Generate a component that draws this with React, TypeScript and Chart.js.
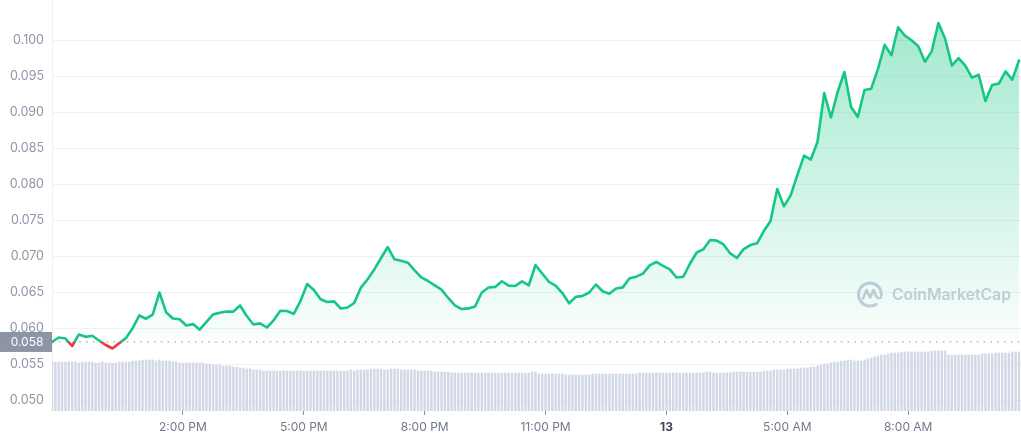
import { useEffect, useRef } from "react";
import { Chart, registerables } from "chart.js";

Chart.register(...registerables);

// Time axis: minutes since midnight of the 12th (10:45 AM start)
const START_MINUTE = 645;
const PRICE_STEP_MIN = 10;
const VOLUME_STEP_MIN = 5;

// Price (USD), one reading every 10 minutes
const prices = [
  0.0581, 0.05872, 0.05857, 0.05754, 0.05914, 0.05881, 0.05896, 0.05831, 0.05768, 0.05719,
  0.05793, 0.05863, 0.05999, 0.06178, 0.06133, 0.0619, 0.06497, 0.06222, 0.06136, 0.06126,
  0.06039, 0.06058, 0.05981, 0.06088, 0.06193, 0.06215, 0.06233, 0.06231, 0.06317, 0.06171,
  0.06053, 0.06068, 0.06011, 0.0611, 0.06244, 0.0624, 0.062, 0.06378, 0.06615, 0.06532,
  0.06404, 0.06365, 0.06374, 0.06275, 0.06289, 0.06351, 0.06565, 0.06681, 0.06817, 0.06976,
  0.07129, 0.06958, 0.06939, 0.06911, 0.06804, 0.06706, 0.06657, 0.06596, 0.06537, 0.06421,
  0.06317, 0.06267, 0.06276, 0.06303, 0.06497, 0.06567, 0.06575, 0.06653, 0.06592, 0.06588,
  0.06651, 0.06597, 0.06879, 0.06761, 0.06646, 0.06594, 0.06489, 0.06347, 0.06436, 0.06449,
  0.06497, 0.06608, 0.06515, 0.06479, 0.06553, 0.06568, 0.06696, 0.06717, 0.0676, 0.06874,
  0.06921, 0.06868, 0.06819, 0.06706, 0.06715, 0.06896, 0.07053, 0.07097, 0.07226, 0.07218,
  0.07164, 0.0704, 0.06976, 0.07101, 0.07156, 0.07181, 0.07351, 0.0749, 0.07935, 0.07693,
  0.07847, 0.08132, 0.08399, 0.08344, 0.08592, 0.09268, 0.08928, 0.09285, 0.0956, 0.09074,
  0.08935, 0.0931, 0.09328, 0.09604, 0.09937, 0.09793, 0.10182, 0.10067, 0.1, 0.09918,
  0.09703, 0.09846, 0.1024, 0.10022, 0.0965, 0.09754, 0.09649, 0.09481, 0.09521, 0.09157,
  0.09379, 0.094, 0.09569, 0.09454, 0.09719,
];

// Volume (millions USD), one bar every 5 minutes
const volumes = [
  4.9, 4.9, 4.9, 4.9, 4.9, 4.9, 4.9, 4.9, 4.8, 4.9, 4.9, 4.9, 4.9, 4.8, 4.8, 4.9, 4.8, 4.8, 4.8, 4.8, 4.9, 4.9, 4.9, 4.9,
  5.0, 5.0, 5.0, 5.1, 5.1, 5.1, 5.1, 5.0, 5.1, 5.0, 5.0, 5.0,
  4.9, 4.9, 4.8, 4.8, 4.8, 4.8, 4.8, 4.8, 4.8, 4.8, 4.7, 4.7,
  4.6, 4.6, 4.6, 4.5, 4.5, 4.5, 4.4, 4.4, 4.3, 4.3, 4.2, 4.2, 4.1, 4.1, 4.1, 4.0,
  4.0, 4.0, 4.0, 4.0, 4.0, 4.0, 4.0, 4.0, 4.0, 4.0, 4.0, 4.0, 4.0, 4.0, 4.0, 4.0, 4.0, 4.0, 4.0, 4.0, 4.0, 4.0, 4.0, 4.0, 4.0, 4.1, 4.0, 4.1, 4.1,
  4.1, 4.1, 4.2, 4.2, 4.2, 4.2, 4.1,
  4.1, 4.2, 4.2, 4.2, 4.1, 4.1, 4.1, 4.1, 4.1,
  4.0, 4.0, 4.0, 4.0, 4.0, 3.9, 3.9, 3.9, 3.9, 3.9,
  3.8, 3.8, 3.8, 3.8, 3.8, 3.8, 3.8, 3.8, 3.8, 3.8, 3.8, 3.8, 3.8, 3.8, 3.8, 3.8, 3.8, 3.8, 3.8, 3.8, 3.8, 3.8, 3.8, 3.8, 3.9, 3.9,
  3.7, 3.7, 3.7, 3.7, 3.7, 3.7, 3.7, 3.7, 3.6, 3.6, 3.6, 3.6, 3.6, 3.6, 3.6, 3.6, 3.7, 3.7, 3.7, 3.7, 3.7, 3.7, 3.7, 3.7, 3.7, 3.7, 3.7, 3.7,
  3.7, 3.7, 3.8, 3.8, 3.8, 3.8, 3.8, 3.8, 3.8, 3.8, 3.8,
  3.8, 3.8, 3.8, 3.8, 3.8, 3.8, 3.8, 3.8, 3.8, 3.8, 3.8, 3.9, 3.9, 3.8, 3.8, 3.8, 3.8, 3.8, 3.8, 3.9, 3.9, 3.9, 3.9, 3.9, 3.9, 3.9, 3.9,
  3.9, 4.0, 4.0, 4.0, 4.1, 4.1,
  4.1, 4.1, 4.2, 4.2, 4.2, 4.2, 4.3, 4.3, 4.3,
  4.4, 4.4, 4.5, 4.6, 4.7, 4.7,
  4.8, 4.9, 4.9, 5.0, 5.0,
  5.1, 5.1, 5.0, 5.0, 5.0, 5.1,
  5.2, 5.3, 5.4, 5.5, 5.6, 5.6,
  5.7, 5.8, 5.8, 5.8, 5.9, 5.9, 5.9, 5.9, 5.9, 5.9, 5.9,
  5.9, 5.9, 6.0, 6.0, 6.0, 6.0, 6.0,
  5.6, 5.6, 5.6, 5.6, 5.6, 5.6, 5.6, 5.6, 5.6,
  5.6, 5.7, 5.7, 5.7, 5.7, 5.8, 5.8, 5.8, 5.8, 5.8, 5.9, 5.9, 5.9,
];

const xTickMinutes = [840, 1020, 1200, 1380, 1560, 1740, 1920];
const xTickLabels = ["2:00 PM", "5:00 PM", "8:00 PM", "11:00 PM", "13", "5:00 AM", "8:00 AM"];
const yTicks = [0.05, 0.055, 0.06, 0.065, 0.07, 0.075, 0.08, 0.085, 0.09, 0.095, 0.1];

const GREEN = "#16c784";
const RED = "#ea3943";
const FONT = "Inter, 'Noto Sans', sans-serif";
const WATERMARK = "CoinMarketCap";

const basePrice = prices[0];

function lineColor(chart: any) {
  const area = chart.chartArea;
  const ys = chart.scales && chart.scales.y;
  if (!area || !ys) return GREEN;
  const by = ys.getPixelForValue(basePrice);
  const s = Math.min(1, Math.max(0, (by - area.top) / (area.bottom - area.top)));
  const g = chart.ctx.createLinearGradient(0, area.top, 0, area.bottom);
  g.addColorStop(0, GREEN);
  g.addColorStop(s, GREEN);
  g.addColorStop(s, RED);
  g.addColorStop(1, RED);
  return g;
}

function fillColor(chart: any) {
  const area = chart.chartArea;
  const ys = chart.scales && chart.scales.y;
  if (!area || !ys) return "rgba(22,199,132,0.2)";
  const by = ys.getPixelForValue(basePrice);
  const s = Math.min(1, Math.max(0, (by - area.top) / (area.bottom - area.top)));
  const g = chart.ctx.createLinearGradient(0, area.top, 0, area.bottom);
  g.addColorStop(0, "rgba(22,199,132,0.42)");
  g.addColorStop(s * 0.55, "rgba(22,199,132,0.2)");
  g.addColorStop(s, "rgba(22,199,132,0.02)");
  g.addColorStop(s, "rgba(234,57,67,0.04)");
  g.addColorStop(1, "rgba(234,57,67,0.08)");
  return g;
}

const decorPlugin = {
  id: "decor",
  beforeDatasetsDraw(chart: any) {
    const { ctx, chartArea, scales } = chart;
    const by = scales.y.getPixelForValue(basePrice);
    ctx.save();
    // baseline dotted line
    ctx.strokeStyle = "#a7afc0";
    ctx.lineWidth = 1.2;
    ctx.setLineDash([1.6, 5.2]);
    ctx.beginPath();
    ctx.moveTo(chartArea.left, by);
    ctx.lineTo(chartArea.right, by);
    ctx.stroke();
    ctx.setLineDash([]);
    // watermark
    const cx = 870;
    const cy = 294.5;
    ctx.strokeStyle = "#c9cedb";
    ctx.lineWidth = 3;
    ctx.lineCap = "round";
    ctx.lineJoin = "round";
    ctx.beginPath();
    ctx.arc(cx, cy, 11.5, 0.32 * Math.PI, 2.02 * Math.PI);
    ctx.stroke();
    ctx.beginPath();
    ctx.lineWidth = 2.6;
    ctx.moveTo(cx - 7, cy + 4);
    ctx.lineTo(cx - 3.5, cy - 4.5);
    ctx.lineTo(cx, cy + 3);
    ctx.lineTo(cx + 3.5, cy - 4.5);
    ctx.lineTo(cx + 6, cy + 1.5);
    ctx.quadraticCurveTo(cx + 8, cy + 5, cx + 11, cy + 3);
    ctx.stroke();
    ctx.fillStyle = "#c9cedb";
    ctx.font = `600 18px ${FONT}`;
    const w = ctx.measureText(WATERMARK).width;
    const size = Math.min(18, (18 * 119) / w);
    ctx.font = `600 ${size.toFixed(2)}px ${FONT}`;
    ctx.textAlign = "left";
    ctx.textBaseline = "middle";
    ctx.fillText(WATERMARK, 892, cy + 1);
    ctx.restore();
  },
  afterDraw(chart: any) {
    const { ctx, scales } = chart;
    const by = scales.y.getPixelForValue(basePrice);
    ctx.save();
    ctx.fillStyle = "#8d94a6";
    ctx.fillRect(0, by - 10, 52, 20);
    ctx.fillStyle = "#ffffff";
    ctx.font = `12px ${FONT}`;
    ctx.textAlign = "center";
    ctx.textBaseline = "middle";
    ctx.fillText(basePrice.toFixed(3), 27, by + 0.5);
    ctx.restore();
  },
};

export default function App() {
  const canvasRef = useRef<HTMLCanvasElement | null>(null);

  useEffect(() => {
    const canvas = canvasRef.current;
    if (!canvas) return;

    const priceData = prices.map((p, i) => ({ x: START_MINUTE + i * PRICE_STEP_MIN, y: p }));
    const volumeData = volumes.map((v, i) => ({ x: START_MINUTE + i * VOLUME_STEP_MIN, y: v }));

    const chart = new Chart(canvas, {
      type: "line",
      data: {
        datasets: [
          {
            type: "line",
            data: priceData,
            xAxisID: "x",
            yAxisID: "y",
            borderColor: (c: any) => lineColor(c.chart),
            backgroundColor: (c: any) => fillColor(c.chart),
            borderWidth: 2.6,
            borderJoinStyle: "round",
            borderCapStyle: "round",
            pointRadius: 0,
            tension: 0,
            fill: { value: basePrice },
            order: 0,
          } as any,
          {
            type: "bar",
            data: volumeData,
            xAxisID: "x",
            yAxisID: "vol",
            backgroundColor: "#d3d8e6",
            barThickness: 1.8,
            order: 1,
          } as any,
        ],
      },
      options: {
        responsive: false,
        animation: false,
        events: [],
        layout: { padding: 0 },
        plugins: {
          legend: { display: false },
          tooltip: { enabled: false },
        },
        scales: {
          x: {
            type: "linear",
            min: START_MINUTE,
            max: 2088,
            offset: false,
            afterBuildTicks: (s: any) => {
              s.ticks = xTickMinutes.map((v) => ({ value: v }));
            },
            afterFit: (s: any) => {
              s.height = 29;
            },
            border: { display: false },
            grid: {
              offset: false,
              drawOnChartArea: false,
              drawTicks: true,
              tickLength: 4,
              tickColor: "#8a93a6",
            },
            ticks: {
              autoSkip: false,
              maxRotation: 0,
              padding: 5,
              color: (c: any) => (c.tick && c.tick.value === 1560 ? "#3e4658" : "#6f788c"),
              font: (c: any) => ({
                family: FONT,
                size: 12,
                weight: c.tick && c.tick.value === 1560 ? "bold" : "normal",
              }),
              callback: (v: any) => {
                const k = xTickMinutes.indexOf(Number(v));
                return k >= 0 ? xTickLabels[k] : "";
              },
            },
          },
          y: {
            type: "linear",
            position: "left",
            min: 0.04851,
            max: 0.1056,
            afterBuildTicks: (s: any) => {
              s.ticks = yTicks.map((v) => ({ value: v }));
            },
            afterFit: (s: any) => {
              s.width = 52;
            },
            border: { display: true, color: "#eef1f6", width: 1 },
            grid: {
              color: "#eff2f5",
              drawTicks: true,
              tickLength: 8,
              tickColor: "rgba(0,0,0,0)",
            },
            ticks: {
              padding: 0,
              color: "#8f96a9",
              font: { family: FONT, size: 12.5, lineHeight: 0 } as any,
              callback: (v: any) => Number(v).toFixed(3),
            },
          },
          vol: {
            type: "linear",
            display: false,
            min: 0,
            max: 41.1,
          },
        },
      } as any,
      plugins: [decorPlugin],
    });

    return () => {
      chart.destroy();
    };
  }, []);

  return (
    <div style={{ position: "absolute", left: 0, top: 0, width: 1021, height: 440, background: "#ffffff" }}>
      <canvas ref={canvasRef} width={1021} height={440} style={{ display: "block", width: 1021, height: 440 }} />
    </div>
  );
}
